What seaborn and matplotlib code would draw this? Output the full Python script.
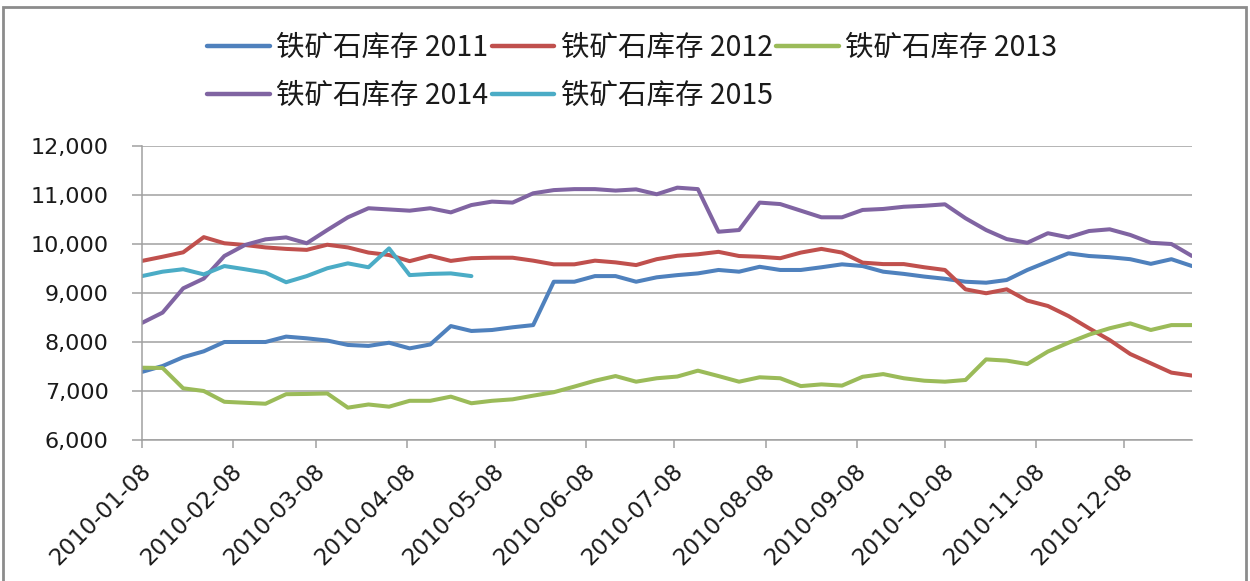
import pandas as pd
import numpy as np
import matplotlib
matplotlib.use("Agg")
import matplotlib.pyplot as plt
import matplotlib.dates as mdates
import matplotlib.ticker as mticker
from matplotlib.patches import Rectangle
from matplotlib.transforms import ScaledTranslation
import seaborn as sns

# ---------------- data (weekly) ----------------
dates = pd.date_range("2010-01-08", periods=52, freq="7D")

s2011 = [7390, 7510, 7690, 7810, 8000, 8000, 8000, 8110, 8075, 8030,
         7940, 7920, 7985, 7870, 7950, 8325, 8225, 8245, 8300, 8345,
         9230, 9230, 9345, 9345, 9230, 9320, 9365, 9400, 9470, 9435,
         9535, 9470, 9470, 9525, 9585, 9550, 9435, 9390, 9335, 9290,
         9230, 9210, 9265, 9470, 9640, 9810, 9755, 9730, 9690, 9595, 9690, 9550]
s2012 = [9655, 9740, 9830, 10140, 10015, 9980, 9930, 9900, 9880, 9985,
         9930, 9825, 9775, 9650, 9760, 9655, 9710, 9720, 9720, 9660,
         9585, 9585, 9660, 9625, 9570, 9690, 9760, 9790, 9840, 9755,
         9740, 9710, 9825, 9900, 9825, 9620, 9590, 9590, 9525, 9470,
         9075, 8995, 9075, 8845, 8735, 8530, 8280, 8040, 7755, 7565, 7375, 7315]
s2013 = [7475, 7470, 7055, 7000, 6780, 6760, 6740, 6935, 6940, 6950,
         6660, 6725, 6680, 6800, 6800, 6885, 6750, 6800, 6830, 6905,
         6975, 7090, 7210, 7305, 7190, 7260, 7295, 7415, 7305, 7190,
         7280, 7260, 7100, 7135, 7110, 7290, 7345, 7260, 7210, 7190,
         7225, 7645, 7620, 7550, 7805, 7985, 8150, 8280, 8380, 8245, 8345, 8345]
s2014 = [8390, 8600, 9095, 9295, 9755, 9980, 10095, 10135, 10015, 10285,
         10545, 10730, 10705, 10680, 10730, 10645, 10795, 10865, 10845, 11035,
         11100, 11120, 11120, 11090, 11115, 11015, 11150, 11120, 10250, 10285,
         10845, 10815, 10680, 10545, 10545, 10695, 10715, 10760, 10780, 10810,
         10525, 10285, 10100, 10025, 10220, 10135, 10265, 10300, 10185, 10025, 10000, 9755]
s2015 = [9345, 9435, 9485, 9380, 9550, 9485, 9415, 9220, 9345, 9505,
         9605, 9525, 9910, 9365, 9390, 9400, 9345]

labels = ["铁矿石库存 2011", "铁矿石库存 2012", "铁矿石库存 2013",
          "铁矿石库存 2014", "铁矿石库存 2015"]
colors = ["#4F81BD", "#C0504D", "#9BBB59", "#8064A2", "#4BACC6"]
month_ticks = pd.to_datetime([f"2010-{m:02d}-08" for m in range(1, 13)])

pieces = []
for lab, vals in zip(labels, [s2011, s2012, s2013, s2014, s2015]):
    pieces.append(pd.DataFrame({"date": dates[:len(vals)], "value": vals, "series": lab}))
df = pd.concat(pieces, ignore_index=True)

# ---------------- plot ----------------
sns.set_style("white")
plt.rcParams["font.family"] = ["DejaVu Sans"]

fig = plt.figure(figsize=(12.5, 5.81), dpi=100)
ax = fig.add_axes([142 / 1250, 1 - 440 / 581, 1050 / 1250, 294 / 581])

sns.lineplot(data=df, x="date", y="value", hue="series", hue_order=labels,
             palette=dict(zip(labels, colors)), linewidth=2.9, ax=ax,
             solid_capstyle="round", solid_joinstyle="round")

ax.set_xticks(month_ticks)
ax.xaxis.set_major_formatter(mdates.DateFormatter("%Y-%m-%d"))
ax.set_xlim(dates[0], dates[-1])
ax.set_ylim(6000, 12000)
ax.set_yticks(np.arange(6000, 12001, 1000))
ax.yaxis.set_major_formatter(mticker.FuncFormatter(lambda v, p: f"{int(v):,}"))
ax.set_xlabel("")
ax.set_ylabel("")

ax.grid(axis="y", color="#A0A0A0", linewidth=1.1)
ax.grid(axis="x", visible=False)
for side in ["top", "right"]:
    ax.spines[side].set_visible(False)
for side in ["left", "bottom"]:
    ax.spines[side].set_color("#A0A0A0")
    ax.spines[side].set_linewidth(1.1)

ax.tick_params(axis="y", left=True, length=7, width=1.1, color="#A0A0A0",
               pad=17, labelsize=16, labelcolor="#1a1a1a")
ax.tick_params(axis="x", bottom=True, length=6, width=1.1, color="#A0A0A0",
               pad=14, labelsize=16.5, labelcolor="#1a1a1a")
offset = ScaledTranslation(4 / 72, 0, fig.dpi_scale_trans)
for lbl in ax.get_xticklabels():
    lbl.set_rotation(45)
    lbl.set_ha("right")
    lbl.set_va("center")
    lbl.set_rotation_mode("anchor")
    lbl.set_transform(lbl.get_transform() + offset)

# legend: two rows, filled row by row
handles, labs = ax.get_legend_handles_labels()
ax.get_legend().remove()
order = [0, 3, 1, 4, 2]
leg = ax.legend([handles[i] for i in order], [labs[i] for i in order],
                ncol=3, loc="upper left", bbox_to_anchor=(207 / 1250, 1 - 33 / 581),
                bbox_transform=fig.transFigure, frameon=False, borderpad=0,
                borderaxespad=0, handlelength=2.2, handletextpad=0.22,
                columnspacing=0.13, labelspacing=0.62,
                prop={"family": ["Noto Sans CJK SC", "DejaVu Sans"], "size": 20.5})
for t in leg.get_texts():
    t.set_color("#1a1a1a")
for h in leg.get_lines():
    h.set_linewidth(3.2)

# outer chart border
fig.patches.append(Rectangle((3 / 1250, -0.01), 1243 / 1250, 1 - 7 / 581 + 0.01,
                             transform=fig.transFigure, fill=False,
                             edgecolor="#8C8C8C", linewidth=2))

fig.savefig("out.png", dpi=100)
